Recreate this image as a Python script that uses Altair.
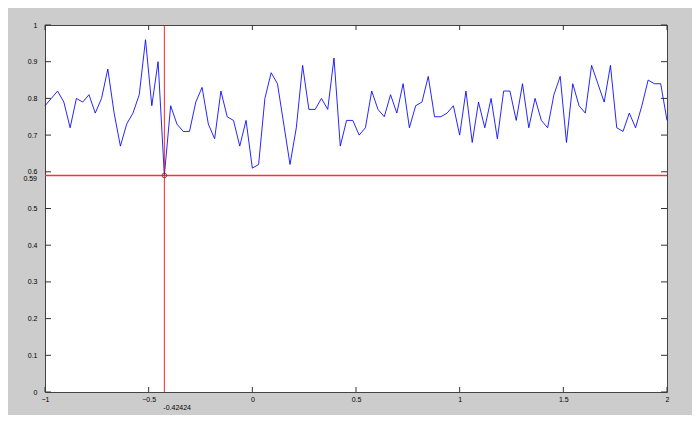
import altair as alt
import pandas as pd

# x runs from -1 to 2 in steps of 1/33 (100 samples)
n_points = 100
x_start = -1.0
x_step = 1.0 / 33.0
y_values = [
    0.78, 0.80, 0.82, 0.79, 0.72, 0.80, 0.79, 0.81, 0.76, 0.80,
    0.88, 0.76, 0.67, 0.73, 0.76, 0.81, 0.96, 0.78, 0.90, 0.59,
    0.78, 0.73, 0.71, 0.71, 0.79, 0.83, 0.73, 0.69, 0.82, 0.75,
    0.74, 0.67, 0.74, 0.61, 0.62, 0.80, 0.87, 0.84, 0.73, 0.62,
    0.72, 0.89, 0.77, 0.77, 0.80, 0.77, 0.91, 0.67, 0.74, 0.74,
    0.70, 0.72, 0.82, 0.77, 0.75, 0.81, 0.76, 0.84, 0.72, 0.78,
    0.79, 0.86, 0.75, 0.75, 0.76, 0.78, 0.70, 0.82, 0.68, 0.79,
    0.72, 0.80, 0.69, 0.82, 0.82, 0.74, 0.84, 0.72, 0.80, 0.74,
    0.72, 0.81, 0.86, 0.68, 0.84, 0.78, 0.76, 0.89, 0.84, 0.79,
    0.89, 0.72, 0.71, 0.76, 0.72, 0.78, 0.85, 0.84, 0.84, 0.74,
]
x_values = [x_start + i * x_step for i in range(n_points)]

cursor_x = -0.42424
cursor_y = 0.59
cursor_x_label = "-0.42424"
cursor_y_label = "0.59"

x_domain = [-1, 2]
y_domain = [0, 1]
x_ticks = [-1, -0.5, 0, 0.5, 1, 1.5, 2]
y_ticks = [round(i * 0.1, 1) for i in range(11)]

W, H = 622, 367
FONT = "Liberation Sans"
FS = 7

df = pd.DataFrame({"x": x_values, "y": y_values})
cur = pd.DataFrame({"x": [cursor_x], "y": [cursor_y],
                    "xl": [cursor_x_label], "yl": [cursor_y_label]})
hdf = pd.DataFrame({"x": x_domain, "y": [cursor_y, cursor_y]})
vdf = pd.DataFrame({"x": [cursor_x, cursor_x], "y": y_domain})
xt = pd.DataFrame({"x": x_ticks})
yt = pd.DataFrame({"y": y_ticks})

xscale = alt.Scale(domain=x_domain, nice=False, zero=False)
yscale = alt.Scale(domain=y_domain, nice=False, zero=False)

xaxis = alt.Axis(values=x_ticks, format="~g", domain=False, ticks=False,
                 grid=False, labelFont=FONT, labelFontSize=FS, labelColor="#000",
                 labelPadding=3, title=None, labelFlush=False, labelOverlap=False)
yaxis = alt.Axis(values=y_ticks, format="~g", domain=False, ticks=False,
                 grid=False, labelFont=FONT, labelFontSize=FS, labelColor="#000",
                 labelPadding=8, title=None, labelFlush=False, labelOverlap=False)


def X(**kw):
    return alt.X("x:Q", scale=xscale, axis=xaxis, **kw)


def Y(**kw):
    return alt.Y("y:Q", scale=yscale, axis=yaxis, **kw)


line = alt.Chart(df).mark_line(color="#0000ff", strokeWidth=1, opacity=0.85).encode(
    x=X(), y=Y()
)

hline = alt.Chart(hdf).mark_line(color="#ff3030", strokeWidth=1.4).encode(
    x=X(), y=Y()
)
vline = alt.Chart(vdf).mark_line(color="#ff0000", strokeWidth=1, opacity=0.85).encode(
    x=X(), y=Y()
)
marker = alt.Chart(cur).mark_point(shape="circle", size=22, filled=False,
                                   color="#602020", strokeWidth=1).encode(
    x=X(), y=Y()
)
xlab = alt.Chart(cur).mark_text(align="left", baseline="middle", font=FONT,
                                fontSize=FS, color="#000", dx=-1).encode(
    x=X(), y=alt.value(H + 16), text="xl:N"
)
ylab = alt.Chart(cur).mark_text(align="right", baseline="middle", font=FONT,
                                fontSize=FS, color="#000", dy=3.5).encode(
    y=Y(), x=alt.value(-8), text="yl:N"
)

tick_color = "#333333"
xt_bottom = alt.Chart(xt).mark_rule(color=tick_color, strokeWidth=1).encode(
    x=X(), y=alt.value(H - 5), y2=alt.value(H))
xt_top = alt.Chart(xt).mark_rule(color=tick_color, strokeWidth=1).encode(
    x=X(), y=alt.value(0), y2=alt.value(5))
yt_left = alt.Chart(yt).mark_rule(color=tick_color, strokeWidth=1).encode(
    y=Y(), x=alt.value(0), x2=alt.value(6))
yt_right = alt.Chart(yt).mark_rule(color=tick_color, strokeWidth=1).encode(
    y=Y(), x=alt.value(W - 6), x2=alt.value(W))

chart = alt.layer(
    line, xt_bottom, xt_top, yt_left, yt_right, hline, vline, marker, xlab, ylab
).properties(
    width=W, height=H,
    background="#cccccc",
    padding={"left": 37, "top": 17, "right": 25, "bottom": 23},
    autosize=alt.AutoSizeParams(type="none"),
).configure_view(
    fill="#ffffff", stroke="#444444", strokeWidth=1
)

chart.save("out.html", embed_options={"renderer": "svg", "actions": False})
